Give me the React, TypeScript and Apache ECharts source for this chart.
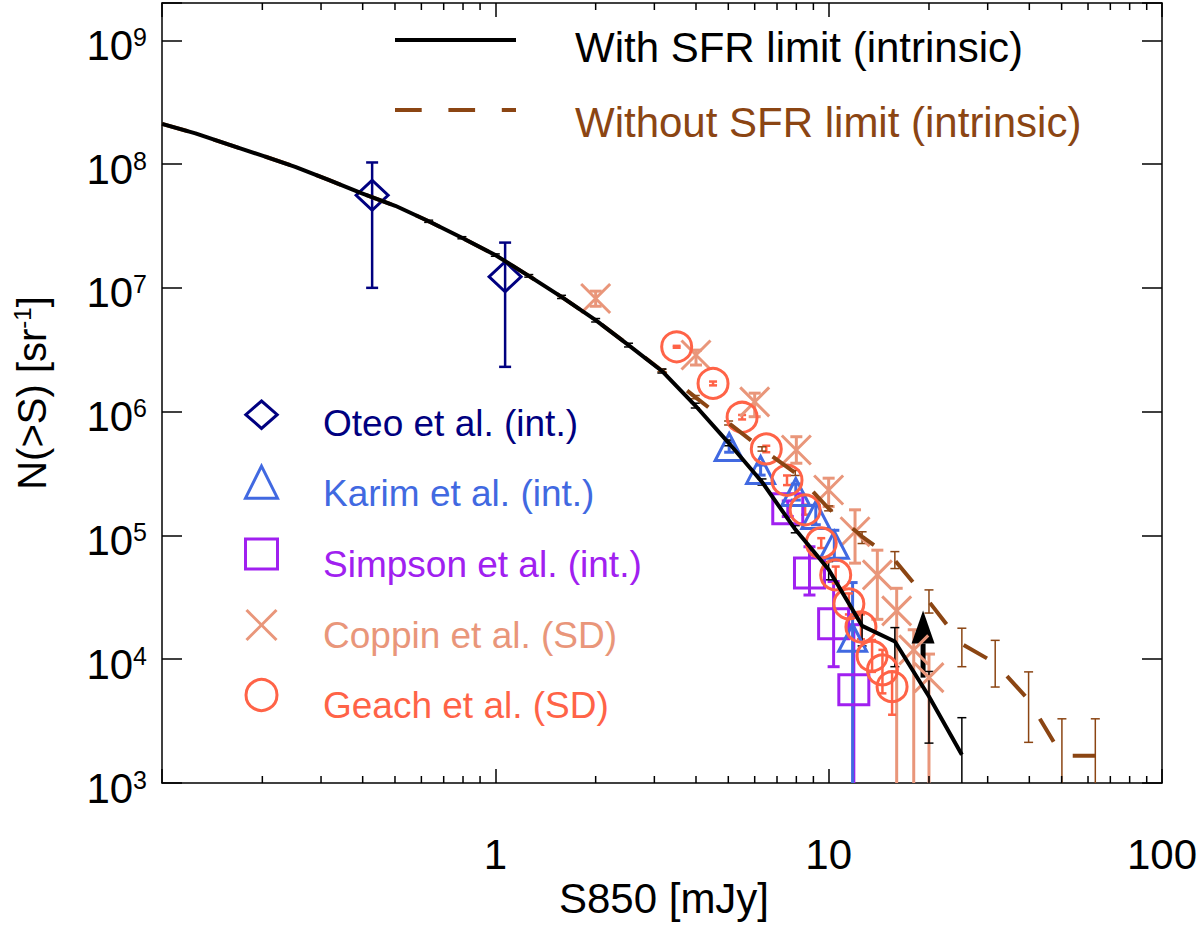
import React, { useEffect, useRef } from "react";
import * as echarts from "echarts";

const FONT = '"Liberation Sans", Arial, Helvetica, sans-serif';
const NAVY = "#000080";
const KARIM = "#4169E1";
const SIMPSON = "#A020F0";
const COPPIN = "#E9967A";
const GEACH = "#FF6347";
const BROWN = "#8B4513";

// x-axis minor tick positions (mJy)
const minorTickValues = [0.2, 0.3, 0.4, 0.5, 0.6, 0.7, 0.8, 0.9, 2, 3, 4, 5, 6, 7, 8, 9, 20, 30, 40, 50, 60, 70, 80, 90];

// model flux grid (mJy)
const modelFlux = [0.1, 0.126, 0.158, 0.2, 0.251, 0.316, 0.398, 0.501, 0.631, 0.794, 1.0, 1.26, 1.58, 2.0, 2.51, 3.16, 3.98, 5.01, 6.31, 7.94, 10.0, 12.6, 15.8, 20.0, 25.1, 31.6, 39.8, 50.1, 63.1];

// With SFR limit (intrinsic)
const withSfr = [2.11e8, 1.77e8, 1.44e8, 1.17e8, 9.5e7, 7.45e7, 5.8e7, 4.6e7, 3.45e7, 2.54e7, 1.84e7, 1.25e7, 8.45e6, 5.48e6, 3.45e6, 2.13e6, 1.12e6, 5.6e5, 2.7e5, 1.12e5, 5.3e4, 1.86e4, 1.39e4, 5.0e3, 1.69e3];
const withSfrLo = [null, null, null, null, null, null, null, null, 3.38e7, 2.49e7, 1.8e7, 1.22e7, 8.2e6, 5.3e6, 3.33e6, 2.05e6, 1.07e6, 5.3e5, 2.55e5, 1.05e5, 4.38e4, 1.28e4, 8.7e3, 2.1e3, 100];
const withSfrHi = [null, null, null, null, null, null, null, null, 3.52e7, 2.59e7, 1.88e7, 1.28e7, 8.7e6, 5.65e6, 3.57e6, 2.21e6, 1.17e6, 5.9e5, 2.86e5, 1.2e5, 6.15e4, 2.38e4, 1.8e4, 7.96e3, 3.37e3];

// Without SFR limit (intrinsic)
const withoutSfr = [2.11e8, 1.77e8, 1.44e8, 1.17e8, 9.5e7, 7.45e7, 5.8e7, 4.6e7, 3.45e7, 2.54e7, 1.84e7, 1.25e7, 8.45e6, 5.48e6, 3.45e6, 2.15e6, 1.31e6, 8.1e5, 5.0e5, 3.2e5, 1.65e5, 9.8e4, 6.3e4, 2.92e4, 1.33e4, 9.3e3, 4.7e3, 1.66e3, 1.66e3];
const withoutSfrLo = [null, null, null, null, null, null, null, null, null, null, null, null, null, null, null, 2.1e6, 1.27e6, 7.8e5, 4.8e5, 3.05e5, 1.58e5, 8.6e4, 5.4e4, 2.36e4, 8.7e3, 5.96e3, 2.13e3, 100, 100];
const withoutSfrHi = [null, null, null, null, null, null, null, null, null, null, null, null, null, null, null, 2.2e6, 1.35e6, 8.4e5, 5.2e5, 3.35e5, 1.73e5, 1.07e5, 7.4e4, 3.63e4, 1.78e4, 1.42e4, 7.9e3, 3.3e3, 3.3e3];

// Oteo et al. (int.)
const oteoX = [0.427, 1.07];
const oteoY = [5.6e7, 1.23e7];
const oteoLo = [1.0e7, 2.3e6];
const oteoHi = [1.03e8, 2.32e7];

// Karim et al. (int.)
const karimX = [5.03, 6.25, 7.97, 9.15, 10.4, 11.8];
const karimY = [5.18e5, 3.38e5, 2.24e5, 1.46e5, 8.4e4, 1.49e4];
const karimLo = [4.7e5, 3.07e5, 1.93e5, 1.22e5, 6.3e4, 100];
const karimHi = [5.7e5, 3.7e5, 2.6e5, 1.75e5, 1.1e5, 4.16e4];

// Simpson et al. (int.)
const simpsonX = [7.54, 8.76, 10.35, 11.9];
const simpsonY = [1.64e5, 4.96e4, 1.93e4, 5.66e3];
const simpsonLo = [1.42e5, 3.3e4, 8.7e3, 100];
const simpsonHi = [1.9e5, 8.1e4, 4.24e4, 1.9e4];

// Coppin et al. (SD)
const coppinX = [2, 4, 6, 8, 10, 12, 14, 16, 18, 20];
const coppinY = [8.2e6, 2.87e6, 1.2e6, 4.9e5, 2.33e5, 1.07e5, 4.8e4, 2.46e4, 1.19e4, 7.1e3];
const coppinLo = [7.1e6, 2.38e6, 9.1e5, 3.83e5, 1.71e5, 5.97e4, 2.1e4, 100, 100, 100];
const coppinHi = [9.4e6, 3.14e6, 1.41e6, 6.27e5, 2.9e5, 1.61e5, 7.6e4, 3.74e4, 1.73e4, 1.1e4];

// Geach et al. (SD)
const geachX = [3.5, 4.5, 5.5, 6.5, 7.5, 8.5, 9.5, 10.5, 11.5, 12.5, 13.5, 14.5, 15.5];
const geachY = [3.34e6, 1.69e6, 9.0e5, 5.0e5, 2.79e5, 1.61e5, 8.7e4, 4.8e4, 2.8e4, 1.82e4, 1.06e4, 8.2e3, 6.0e3];
const geachLo = [3.28e6, 1.63e6, 8.65e5, 4.7e5, 2.55e5, 1.47e5, 7.9e4, 4.1e4, 2.3e4, 1.45e4, 7.9e3, 5.3e3, 3.56e3];
const geachHi = [3.4e6, 1.75e6, 9.4e5, 5.3e5, 3.05e5, 1.77e5, 9.5e4, 5.6e4, 3.4e4, 2.3e4, 1.43e4, 1.19e4, 7.9e3];

// lower-limit arrow: [flux, from, to]
const arrowData = [[19.2, 7.1e3, 2.47e4]];

const xAxisTitle = "S850 [mJy]";
const lineLegend = ["With SFR limit (intrinsic)", "Without SFR limit (intrinsic)"];
const dataLegend = ["Oteo et al. (int.)", "Karim et al. (int.)", "Simpson et al. (int.)", "Coppin et al. (SD)", "Geach et al. (SD)"];

function errorBars(xs: number[], lo: (number | null)[], hi: (number | null)[], color: string, width: number, capHalf: number) {
  const data: number[][] = [];
  xs.forEach((x, i) => {
    if (lo[i] != null && hi[i] != null) data.push([x, lo[i] as number, hi[i] as number]);
  });
  return {
    type: "custom",
    clip: true,
    silent: true,
    data,
    encode: { x: 0, y: [1, 2] },
    renderItem: (params: any, api: any) => {
      const x = api.value(0);
      const p1 = api.coord([x, api.value(1)]);
      const p2 = api.coord([x, api.value(2)]);
      const style = { stroke: color, lineWidth: width, fill: "none" };
      return {
        type: "group",
        children: [
          { type: "line", shape: { x1: p1[0], y1: p1[1], x2: p2[0], y2: p2[1] }, style },
          { type: "line", shape: { x1: p1[0] - capHalf, y1: p1[1], x2: p1[0] + capHalf, y2: p1[1] }, style },
          { type: "line", shape: { x1: p2[0] - capHalf, y1: p2[1], x2: p2[0] + capHalf, y2: p2[1] }, style },
        ],
      };
    },
  };
}

function markers(xs: number[], ys: number[], symbol: string, size: number | number[], color: string) {
  return {
    type: "scatter",
    data: xs.map((x, i) => [x, ys[i]]),
    symbol,
    symbolSize: size,
    silent: true,
    itemStyle: { color: "rgba(0,0,0,0)", borderColor: color, borderWidth: 3, opacity: 1 },
  };
}

function isPow10(v: number) {
  const l = Math.log10(v);
  return Math.abs(l - Math.round(l)) < 1e-6;
}

function buildOption() {
  const xTick = { show: true, inside: true, length: 14, lineStyle: { color: "#000", width: 1.5 } };
  const yTick = { show: true, inside: true, length: 20, lineStyle: { color: "#000", width: 1.5 } };
  const axisLine = { show: true, lineStyle: { color: "#000", width: 1.5 } };

  const g: any[] = [];
  // x-axis title
  g.push({ type: "text", x: 664, y: 898, style: { text: xAxisTitle, fill: "#000", fontSize: 42, fontFamily: FONT, align: "center", verticalAlign: "middle" } });
  // top legend
  g.push({ type: "line", shape: { x1: 395, y1: 40, x2: 516, y2: 40 }, style: { stroke: "#000", lineWidth: 4 } });
  g.push({ type: "text", x: 575, y: 47.5, style: { text: lineLegend[0], fill: "#000", fontSize: 42, fontFamily: FONT, align: "left", verticalAlign: "middle" } });
  g.push({ type: "line", shape: { x1: 395, y1: 110, x2: 516, y2: 110 }, style: { stroke: BROWN, lineWidth: 4, lineDash: [26.7, 26.7] } });
  g.push({ type: "text", x: 575, y: 122, style: { text: lineLegend[1], fill: BROWN, fontSize: 42, fontFamily: FONT, align: "left", verticalAlign: "middle" } });

  // data legend
  const cx = 261.5;
  const mY = [414.7, 482.2, 554, 625, 695];
  const tY = [423.3, 493.8, 564, 635, 705];
  const cols = [NAVY, KARIM, SIMPSON, COPPIN, GEACH];
  const st = (c: string) => ({ stroke: c, lineWidth: 3, fill: "none" });
  g.push({ type: "polygon", shape: { points: [[cx, mY[0] - 13.7], [cx + 15.7, mY[0]], [cx, mY[0] + 13.7], [cx - 15.7, mY[0]]] }, style: st(NAVY) });
  g.push({ type: "polygon", shape: { points: [[cx, mY[1] - 16], [cx + 16, mY[1] + 16], [cx - 16, mY[1] + 16]] }, style: st(KARIM) });
  g.push({ type: "rect", shape: { x: cx - 16, y: mY[2] - 15, width: 32, height: 30 }, style: st(SIMPSON) });
  g.push({ type: "line", shape: { x1: cx - 15, y1: mY[3] - 15, x2: cx + 15, y2: mY[3] + 15 }, style: st(COPPIN) });
  g.push({ type: "line", shape: { x1: cx - 15, y1: mY[3] + 15, x2: cx + 15, y2: mY[3] - 15 }, style: st(COPPIN) });
  g.push({ type: "circle", shape: { cx, cy: mY[4], r: 15.5 }, style: st(GEACH) });
  dataLegend.forEach((t, i) => {
    g.push({ type: "text", x: 323, y: tY[i], style: { text: t, fill: cols[i], fontSize: 37, fontFamily: FONT, align: "left", verticalAlign: "middle" } });
  });

  const yRich = {
    b: { fontSize: 42, fontFamily: FONT, color: "#000", lineHeight: 42, verticalAlign: "bottom" },
    s: { fontSize: 25, fontFamily: FONT, color: "#000", lineHeight: 20, verticalAlign: "top" },
  };

  return {
    animation: false,
    backgroundColor: "#fff",
    textStyle: { fontFamily: FONT },
    grid: { left: 162, right: 33, top: 3, bottom: 147, containLabel: false },
    xAxis: [
      {
        type: "log",
        logBase: 10,
        min: 0.1,
        max: 100,
        interval: 1,
        position: "bottom",
        axisLine,
        axisTick: xTick,
        splitLine: { show: false },
        axisLabel: {
          margin: 50,
          fontSize: 42,
          fontFamily: FONT,
          color: "#000",
          formatter: (v: number) => {
            if (!isPow10(v) || v < 0.5) return "";
            return String(Math.round(v));
          },
        },
      },
      {
        type: "log",
        logBase: 10,
        min: 0.1,
        max: 100,
        interval: 1,
        position: "top",
        axisLine,
        axisTick: xTick,
        axisLabel: { show: false },
        splitLine: { show: false },
      },
    ],
    yAxis: [
      {
        type: "log",
        logBase: 10,
        min: 1000,
        max: 2e9,
        interval: 1,
        position: "left",
        name: "{a|N(>S) [sr}{s|-1}{a|]}",
        nameLocation: "middle",
        nameGap: 110,
        nameTextStyle: {
          fontSize: 40,
          fontFamily: FONT,
          color: "#000",
          rich: {
            a: { fontSize: 40, fontFamily: FONT, color: "#000", lineHeight: 42, verticalAlign: "bottom" },
            s: { fontSize: 24, fontFamily: FONT, color: "#000", lineHeight: 6, verticalAlign: "top" },
          },
        },
        axisLine,
        axisTick: yTick,
        splitLine: { show: false },
        axisLabel: {
          margin: 15,
          padding: [10, 0, 0, 0],
          formatter: (v: number) => {
            if (!isPow10(v) || v > 1.5e9) return "";
            return `{b|10}{s|${Math.round(Math.log10(v))}}`;
          },
          rich: yRich,
        },
      },
      {
        type: "log",
        logBase: 10,
        min: 1000,
        max: 2e9,
        interval: 1,
        position: "right",
        axisLine,
        axisTick: yTick,
        axisLabel: { show: false },
        splitLine: { show: false },
      },
    ],
    graphic: g,
    series: [
      errorBars(coppinX, coppinLo, coppinHi, COPPIN, 3, 6),
      markers(coppinX, coppinY, "path://M0 0L20 20M20 0L0 20", [29, 29], COPPIN),
      errorBars(simpsonX, simpsonLo, simpsonHi, SIMPSON, 3, 6),
      markers(simpsonX, simpsonY, "rect", [30, 30], SIMPSON),
      errorBars(karimX, karimLo, karimHi, KARIM, 3, 5),
      markers(karimX, karimY, "triangle", [28, 27], KARIM),
      errorBars(geachX, geachLo, geachHi, GEACH, 2.5, 4),
      markers(geachX, geachY, "circle", 30, GEACH),
      errorBars(oteoX, oteoLo, oteoHi, NAVY, 2.5, 6),
      markers(oteoX, oteoY, "diamond", [32, 30], NAVY),
      {
        type: "line",
        data: modelFlux.slice(0, withoutSfr.length).map((x, i) => [x, withoutSfr[i]]),
        symbol: "none",
        showSymbol: false,
        clip: true,
        silent: true,
        lineStyle: { color: BROWN, width: 4, type: [27, 27], cap: "butt" },
      },
      errorBars(modelFlux, withoutSfrLo, withoutSfrHi, BROWN, 1.5, 4.5),
      {
        type: "line",
        data: modelFlux.slice(0, withSfr.length).map((x, i) => [x, withSfr[i]]),
        symbol: "none",
        showSymbol: false,
        clip: true,
        silent: true,
        lineStyle: { color: "#000", width: 4 },
      },
      errorBars(modelFlux.slice(0, withSfr.length), withSfrLo, withSfrHi, "#000", 1.5, 4.5),
      {
        type: "custom",
        clip: true,
        silent: true,
        data: arrowData,
        encode: { x: 0, y: [1, 2] },
        renderItem: (params: any, api: any) => {
          const base = api.coord([api.value(0), api.value(1)]);
          const tip = api.coord([api.value(0), api.value(2)]);
          const headLen = 33;
          const headHalf = 11.5;
          return {
            type: "group",
            children: [
              { type: "line", shape: { x1: base[0], y1: base[1], x2: tip[0], y2: tip[1] + headLen }, style: { stroke: "#000", lineWidth: 5 } },
              {
                type: "polygon",
                shape: { points: [[tip[0], tip[1]], [tip[0] - headHalf, tip[1] + headLen], [tip[0] + headHalf, tip[1] + headLen]] },
                style: { fill: "#000" },
              },
            ],
          };
        },
      },
      {
        type: "custom",
        silent: true,
        clip: false,
        data: minorTickValues.map((v) => [v, 1e4]),
        encode: { x: 0, y: 1 },
        renderItem: (params: any, api: any) => {
          const x = api.coord([api.value(0), api.value(1)])[0];
          const cs = params.coordSys;
          const style = { stroke: "#000", lineWidth: 1.5 };
          const yb = cs.y + cs.height;
          return {
            type: "group",
            children: [
              { type: "line", shape: { x1: x, y1: yb, x2: x, y2: yb - 7 }, style },
              { type: "line", shape: { x1: x, y1: cs.y, x2: x, y2: cs.y + 7 }, style },
            ],
          };
        },
      },
    ],
  };
}

export default function App() {
  const ref = useRef<HTMLDivElement>(null);
  useEffect(() => {
    if (!ref.current) return;
    const chart = echarts.init(ref.current, undefined, { renderer: "svg" });
    chart.setOption(buildOption() as any);
    return () => chart.dispose();
  }, []);
  return (
    <div
      ref={ref}
      style={{ position: "fixed", left: 0, top: 0, width: 1200, height: 930, background: "#fff" }}
    />
  );
}
